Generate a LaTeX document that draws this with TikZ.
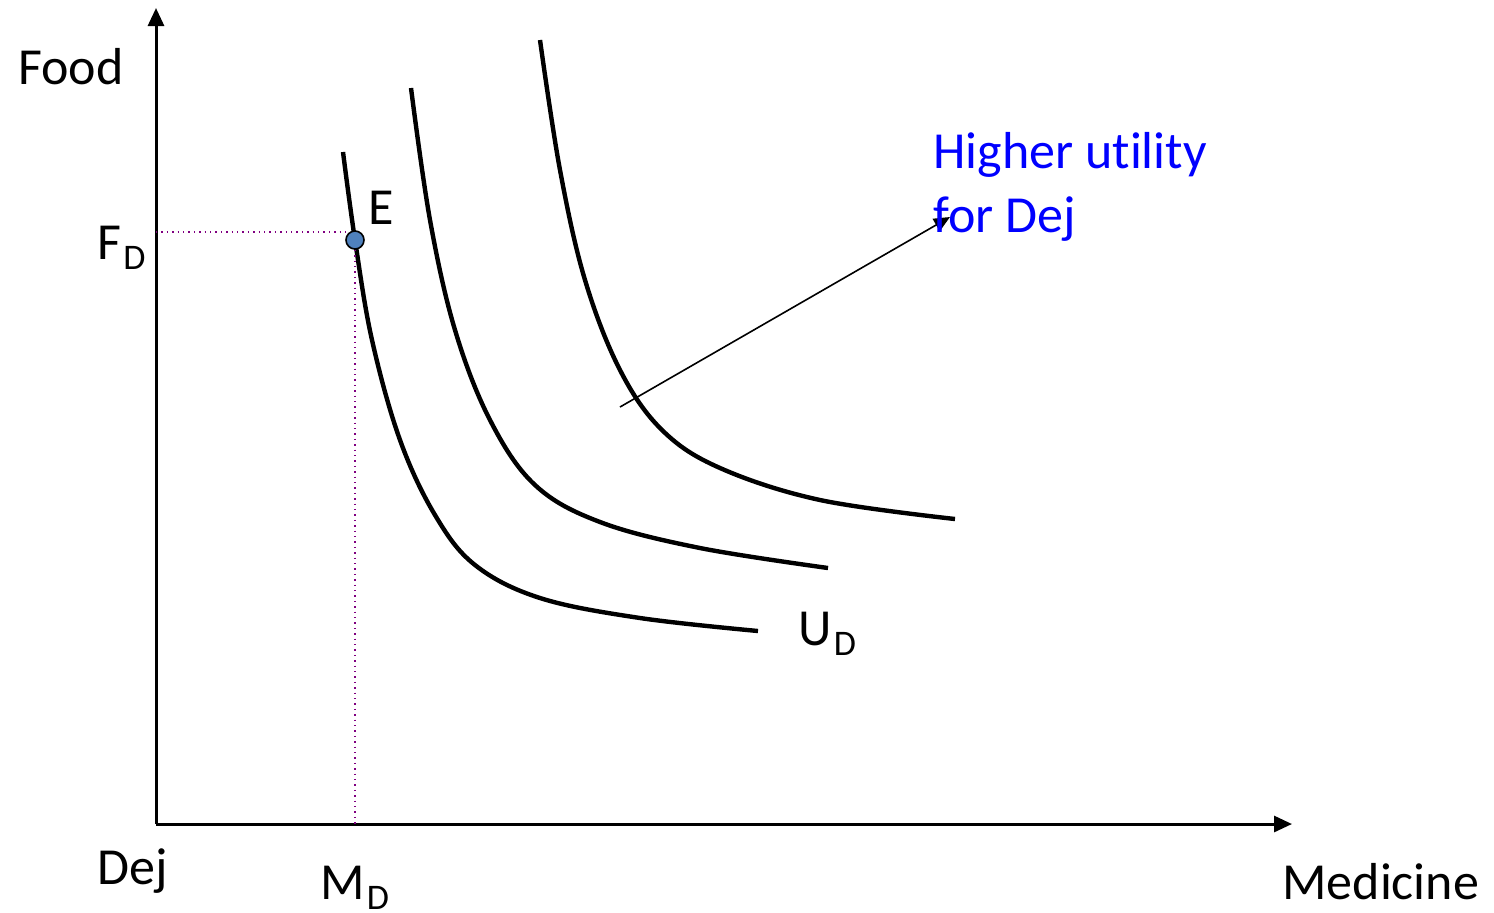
\documentclass[tikz,border=0pt]{standalone}
\usepackage{fontspec}
\setmainfont{Carlito}[Ligatures=NoCommon]
\usetikzlibrary{arrows.meta}
\definecolor{ptblue}{RGB}{79,129,189}
\definecolor{dotpurple}{RGB}{128,0,128}
\newcommand{\subD}{\kern1pt\raisebox{-5pt}{\fontsize{18}{18}\selectfont D}}
\tikzset{
  axis/.style={line width=1.5pt,-{Triangle[length=9pt,width=8pt]}},
  icurve/.style={line width=2.2pt},
  guide/.style={dotpurple,dotted,line width=0.7pt},
  lbl/.style={font=\fontsize{26}{30}\selectfont,inner sep=0pt,anchor=base west},
  bluelbl/.style={lbl,text=blue},
}
\begin{document}
\begin{tikzpicture}[x=0.5pt,y=-0.5pt]
\useasboundingbox (0,0) rectangle (1494,912);
\coordinate (O) at (156,824);
\coordinate (ytop) at (156,8);
\coordinate (xend) at (1292,824);
\draw[axis] (O) -- (ytop);
\draw[axis] (O) -- (xend);
% indifference curves
\draw[icurve] plot[smooth,tension=0.6] coordinates {(343,152) (355,240) (372,340) (400,440) (435,515) (475,565) (540,598) (640,618) (758,631)};
\draw[icurve] plot[smooth,tension=0.6] coordinates {(411,88) (430,220) (455,330) (490,420) (535,485) (600,522) (700,548) (828,568)};
\draw[icurve] plot[smooth,tension=0.6] coordinates {(540,40) (560,170) (585,280) (620,370) (662,430) (720,468) (820,500) (955,519)};
% guides
\coordinate (FDl) at (156,232);
\coordinate (MDb) at (355,824);
\node[circle,draw=black,fill=ptblue,line width=0.8pt,inner sep=0pt,minimum size=9pt] (E) at (355,240) {};
\draw[guide] (FDl) -- (E.west |- FDl);
\draw[guide] (E.south) -- (MDb);
% arrow
\coordinate (as) at (620,407);
\coordinate (ae) at (950,217);
\draw[line width=0.8pt,-{Triangle[length=8pt,width=7pt]}] (as) -- (ae);
% labels
\node[lbl] (food) at (18,84) {Food};
\node[lbl] (fd) at (97,259) {F\subD};
\node[lbl] (dej) at (97,884) {Dej};
\node[lbl] (md) at (320,899) {M\subD};
\node[lbl] (med) at (1282,899) {Medicine};
\node[lbl] (elbl) at (368,224) {E};
\node[lbl] (ud) at (798,645) {U\subD};
\node[bluelbl] (hu) at (933,168) {Higher utility};
\node[bluelbl] (fdj) at (933,232) {for Dej};
\end{tikzpicture}
\end{document}
